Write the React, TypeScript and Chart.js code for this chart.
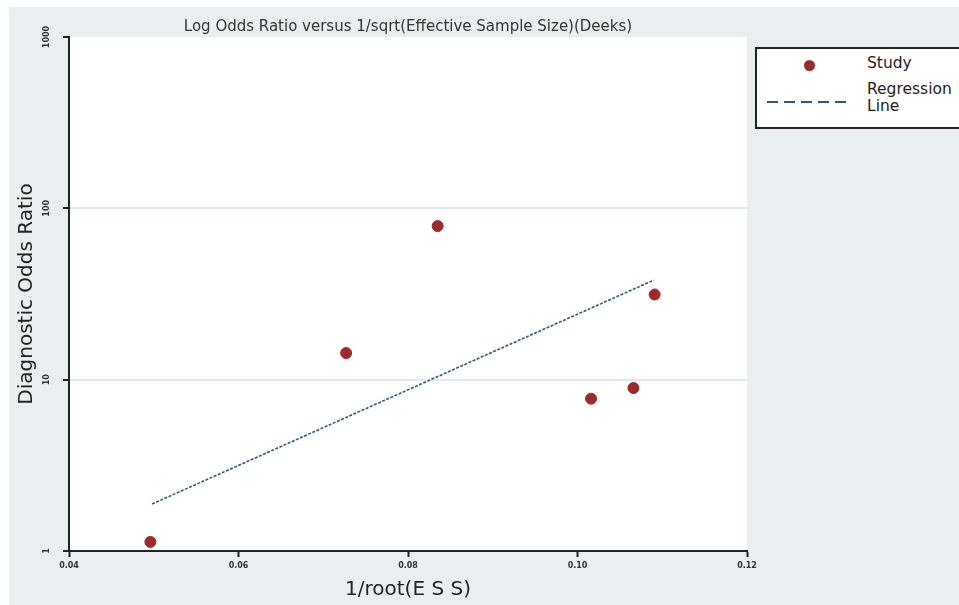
import React, { useEffect, useRef } from "react";
import { Chart, registerables } from "chart.js";

Chart.register(...registerables);

const titleText = "Log Odds Ratio versus 1/sqrt(Effective Sample Size)(Deeks)";
const xTitle = "1/root(E S S)";
const yTitle = "Diagnostic Odds Ratio";

const studyX = [0.0496, 0.0727, 0.0835, 0.1016, 0.1066, 0.1091];
const studyY = [1.13, 14.3, 78.8, 7.74, 8.94, 31.4];

const lineX = [0.0498, 0.1090];
const lineY = [1.88, 38.1];

const xTicks = [0.04, 0.06, 0.08, 0.1, 0.12];
const yTicks = [1, 10, 100, 1000];

const legendLabels = ["Study", "Regression", "Line"];

const FONT = "'DejaVu Sans', 'Noto Sans', sans-serif";
const RED = "#9c2a2d";
const BLUE = "#2a5a87";
const PANEL = "#e9eef0";

export default function App() {
  const ref = useRef<HTMLCanvasElement | null>(null);

  useEffect(() => {
    document.body.style.margin = "0";
    const canvas = ref.current;
    if (!canvas) return;

    const bgPlugin = {
      id: "bg",
      beforeDraw(chart: any) {
        const { ctx, chartArea } = chart;
        ctx.save();
        ctx.fillStyle = "#ffffff";
        ctx.fillRect(0, 0, chart.width, chart.height);
        ctx.fillStyle = PANEL;
        ctx.fillRect(9, 7, chart.width - 9, chart.height - 7);
        ctx.fillStyle = "#ffffff";
        ctx.fillRect(chartArea.left, chartArea.top, chartArea.right - chartArea.left, chartArea.bottom - chartArea.top);
        ctx.restore();
      },
      afterDraw(chart: any) {
        const { ctx } = chart;
        const ys = chart.scales.y;
        ctx.save();
        ctx.fillStyle = "#333";
        ctx.font = `bold 8px ${FONT}`;
        ctx.textAlign = "center";
        ctx.textBaseline = "middle";
        yTicks.forEach((v) => {
          const py = ys.getPixelForValue(v);
          ctx.save();
          ctx.translate(47, py);
          ctx.rotate(-Math.PI / 2);
          ctx.fillText(String(v), 0, 0);
          ctx.restore();
        });
        ctx.restore();
      },
    };

    const chart = new Chart(canvas, {
      type: "scatter",
      data: {
        datasets: [
          {
            label: "Study",
            data: studyX.map((x, i) => ({ x, y: studyY[i] })),
            backgroundColor: RED,
            borderColor: RED,
            pointRadius: 5.5,
            pointStyle: "circle",
          },
          {
            type: "line",
            label: "Regression Line",
            data: lineX.map((x, i) => ({ x, y: lineY[i] })),
            borderColor: BLUE,
            borderWidth: 1.6,
            borderDash: [3, 1.5],
            pointRadius: 0,
            fill: false,
          } as any,
        ],
      },
      options: {
        responsive: false,
        animation: false,
        layout: { padding: { left: 9, right: 212, top: 0, bottom: 0 } },
        plugins: {
          legend: { display: false },
          tooltip: { enabled: false },
          title: {
            display: true,
            text: titleText,
            fullSize: false,
            color: "#333",
            font: { family: FONT, size: 15, weight: "normal" },
            padding: { top: 18, bottom: 1 },
          },
        },
        scales: {
          x: {
            type: "linear",
            min: 0.04,
            max: 0.12,
            afterBuildTicks(scale: any) {
              scale.ticks = xTicks.map((v) => ({ value: v }));
            },
            afterFit(scale: any) {
              scale.height = 54;
            },
            ticks: {
              color: "#333",
              font: { family: FONT, size: 8, weight: "bold" },
              padding: 4,
              maxRotation: 0,
              callback: (v: any) => Number(v).toFixed(2),
            },
            grid: {
              drawOnChartArea: false,
              drawTicks: true,
              tickLength: 6,
              tickColor: "#222",
              tickWidth: 2,
            },
            border: { display: true, color: "#222", width: 2 },
            title: {
              display: true,
              text: xTitle,
              color: "#222",
              font: { family: FONT, size: 20 },
              padding: { top: 0, bottom: 3 },
            },
          },
          y: {
            type: "logarithmic",
            min: 1,
            max: 1000,
            afterBuildTicks(scale: any) {
              scale.ticks = yTicks.map((v) => ({ value: v }));
            },
            afterFit(scale: any) {
              scale.width = 60;
            },
            ticks: {
              color: "transparent",
              font: { family: FONT, size: 8 },
              callback: (v: any) => String(v),
            },
            grid: {
              color: (c: any) =>
                c.tick && (c.tick.value === 10 || c.tick.value === 100) ? "#e3e9ea" : "transparent",
              lineWidth: 2,
              drawTicks: true,
              tickLength: 6,
              tickColor: "#222",
              tickWidth: 2,
            },
            border: { display: true, color: "#222", width: 2 },
            title: {
              display: true,
              text: yTitle,
              color: "#222",
              font: { family: FONT, size: 20 },
              padding: { top: 6, bottom: 0 },
            },
          },
        },
      },
      plugins: [bgPlugin],
    } as any);

    return () => chart.destroy();
  }, []);

  return (
    <div style={{ position: "relative", width: 959, height: 605, overflow: "hidden" }}>
      <canvas ref={ref} width={959} height={605} style={{ display: "block" }} />
      <div
        style={{
          position: "absolute",
          left: 755,
          top: 47,
          width: 220,
          height: 78,
          background: "#fff",
          border: "2px solid #222",
          fontFamily: FONT,
          fontSize: 15.5,
          color: "#222",
          lineHeight: "17px",
        }}
      >
        <div
          style={{
            position: "absolute",
            left: 47,
            top: 11,
            width: 11,
            height: 11,
            borderRadius: "50%",
            background: RED,
          }}
        />
        <div style={{ position: "absolute", left: 110, top: 6 }}>{legendLabels[0]}</div>
        <div
          style={{
            position: "absolute",
            left: 10,
            top: 52,
            width: 85,
            height: 2,
            background: `repeating-linear-gradient(to right, ${BLUE} 0 11px, transparent 11px 17px)`,
          }}
        />
        <div style={{ position: "absolute", left: 110, top: 32 }}>
          {legendLabels[1]}
          <br />
          {legendLabels[2]}
        </div>
      </div>
    </div>
  );
}
